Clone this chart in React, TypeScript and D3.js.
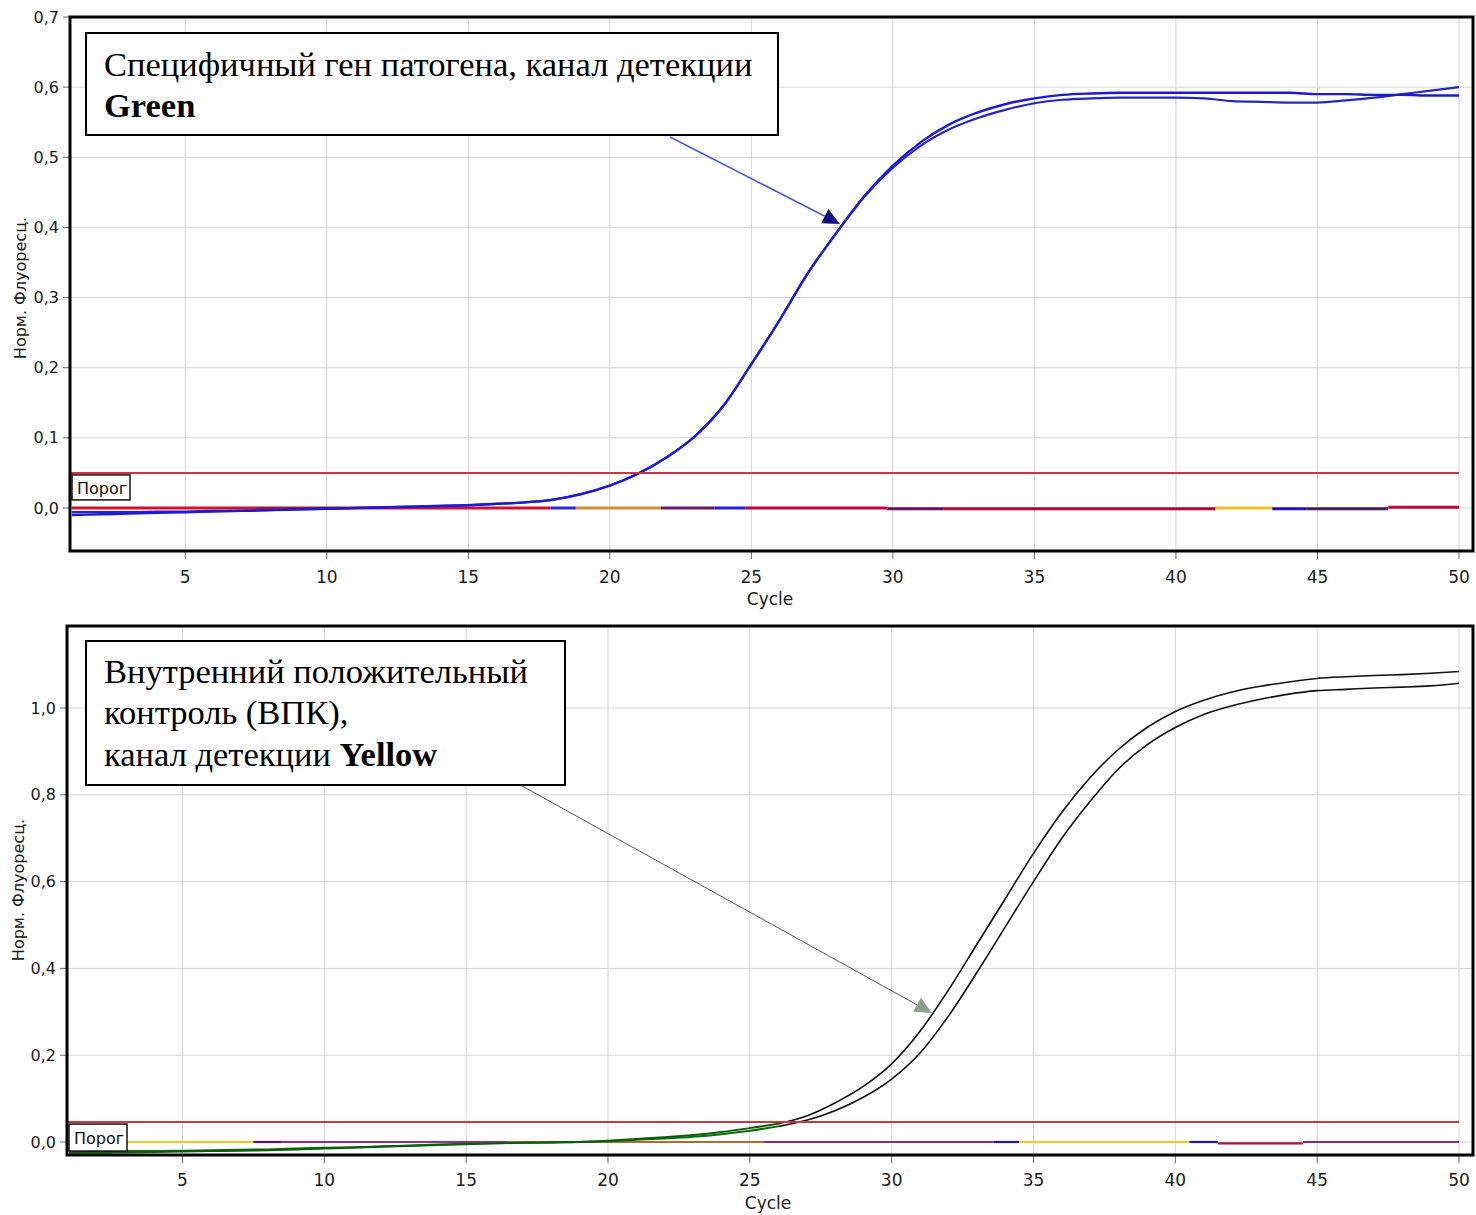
import React from "react";
import * as d3 from "d3";

// ---------- DATA ----------
const cycles = [1,2,3,4,5,6,7,8,9,10,11,12,13,14,15,16,17,18,19,20,21,22,23,24,25,26,27,28,29,30,31,32,33,34,35,36,37,38,39,40,41,42,43,44,45,46,47,48,49,50];

// Top panel: Green channel, specific pathogen gene (two samples)
const greenSample1 = [-0.010,-0.009,-0.008,-0.007,-0.006,-0.005,-0.004,-0.003,-0.002,-0.001,0.000,0.001,0.002,0.003,0.004,0.006,0.008,0.012,0.020,0.032,0.049,0.072,0.102,0.145,0.205,0.268,0.335,0.392,0.445,0.488,0.522,0.547,0.564,0.576,0.584,0.589,0.591,0.592,0.592,0.592,0.592,0.592,0.592,0.592,0.590,0.590,0.589,0.589,0.588,0.588];
const greenSample2 = [-0.006,-0.006,-0.006,-0.005,-0.005,-0.004,-0.004,-0.003,-0.002,-0.001,0.000,0.001,0.002,0.003,0.004,0.006,0.008,0.012,0.020,0.032,0.049,0.072,0.102,0.145,0.205,0.268,0.335,0.392,0.444,0.485,0.517,0.540,0.556,0.568,0.577,0.582,0.584,0.585,0.585,0.585,0.584,0.580,0.579,0.578,0.578,0.581,0.585,0.590,0.595,0.600];

// Bottom panel: Yellow channel, internal positive control (two samples)
const yellowSample1 = [-0.025,-0.025,-0.024,-0.023,-0.022,-0.021,-0.020,-0.019,-0.017,-0.015,-0.013,-0.011,-0.009,-0.007,-0.005,-0.003,-0.002,-0.001,0.000,0.003,0.007,0.011,0.016,0.023,0.032,0.042,0.060,0.090,0.128,0.180,0.255,0.350,0.455,0.560,0.665,0.760,0.840,0.905,0.955,0.992,1.018,1.037,1.050,1.060,1.068,1.072,1.075,1.077,1.080,1.084];
const yellowSample2 = [-0.022,-0.022,-0.021,-0.021,-0.020,-0.019,-0.018,-0.017,-0.015,-0.013,-0.012,-0.010,-0.008,-0.006,-0.004,-0.003,-0.002,-0.001,0.000,0.002,0.005,0.008,0.012,0.018,0.026,0.036,0.050,0.072,0.103,0.145,0.205,0.290,0.390,0.495,0.600,0.700,0.785,0.860,0.915,0.955,0.985,1.005,1.020,1.032,1.040,1.043,1.046,1.048,1.051,1.057];
const yellowGreenUntilCycle = 26;

// Negative / other traces lying on the baseline (segments: from cycle, to cycle, value, colour)
const topBaseFrom  = [1, 7.5, 10.5, 17.9, 18.8, 21.8, 23.7, 24.8, 29.8, 31.8, 41.4, 43.4, 44.6, 47.5];
const topBaseTo    = [7.5, 10.5, 17.9, 18.8, 21.8, 23.7, 24.8, 29.8, 31.8, 41.4, 43.4, 44.6, 47.5, 50];
const topBaseValue = [0.000, 0.000, 0.000, 0.000, 0.000, 0.000, 0.000, 0.000, -0.001, -0.001, 0.000, -0.001, -0.001, 0.001];
const topBaseColor = ["#d4102c", "#a3142e", "#d01030", "#2a2ae0", "#d08a3a", "#6a1a6a", "#2020d8", "#c00838", "#6a1060", "#a80a30", "#f0c028", "#2a10b0", "#4a1a5a", "#c00838"];

const botBaseFrom  = [1, 7.5, 8.5, 16.5, 25.5, 33.6, 34.5, 40.5, 41.5, 44.5];
const botBaseTo    = [7.5, 8.5, 16.5, 25.5, 33.6, 34.5, 40.5, 41.5, 44.5, 50];
const botBaseValue = [0.000, 0.000, 0.000, 0.000, 0.000, 0.000, 0.000, 0.000, -0.003, 0.000];
const botBaseColor = ["#f5c518", "#5a1060", "#9a2a9a", "#b8682a", "#8a2a8a", "#2a10a0", "#f5c518", "#2a10b0", "#b0103a", "#8a2a8a"];

const thresholdTop = 0.05;
const thresholdBottom = 0.046;

const xTicks = [5, 10, 15, 20, 25, 30, 35, 40, 45, 50];
const xTickLabels = ["5", "10", "15", "20", "25", "30", "35", "40", "45", "50"];
const yTicksTop = [0, 0.1, 0.2, 0.3, 0.4, 0.5, 0.6, 0.7];
const yTickLabelsTop = ["0,0", "0,1", "0,2", "0,3", "0,4", "0,5", "0,6", "0,7"];
const yTicksBottom = [0, 0.2, 0.4, 0.6, 0.8, 1.0];
const yTickLabelsBottom = ["0,0", "0,2", "0,4", "0,6", "0,8", "1,0"];

const xTitle = "Cycle";
const yTitle = "Норм. Флуоресц.";
const thresholdLabel = "Порог";
const topNoteLines = ["Специфичный ген патогена, канал детекции"];
const topNoteBold = "Green";
const bottomNoteLines = ["Внутренний положительный", "контроль (ВПК),"];
const bottomNoteLast = "канал детекции ";
const bottomNoteBold = "Yellow";

// arrows: [fromCycle, fromValue, toCycle, toValue]
const topArrow = [22.13, 0.529, 28.13, 0.405];
const bottomArrow = [16.9, 0.823, 31.42, 0.297];

// ---------- LAYOUT ----------
const SANS = "'DejaVu Sans', Verdana, sans-serif";
const SERIF = "'Liberation Serif', 'Times New Roman', serif";
const NOTE_SIZE = 34.5;

type Panel = {
  frame: { x0: number; x1: number; y0: number; y1: number };
  x: d3.ScaleLinear<number, number>;
  y: d3.ScaleLinear<number, number>;
};

const topPanel: Panel = {
  frame: { x0: 70, x1: 1473, y0: 17, y1: 551 },
  x: d3.scaleLinear().domain([1, 50]).range([72, 1459]),
  y: d3.scaleLinear().domain([0, 0.7]).range([508, 17]),
};
const bottomPanel: Panel = {
  frame: { x0: 67, x1: 1473, y0: 626, y1: 1155 },
  x: d3.scaleLinear().domain([1, 50]).range([69, 1459]),
  y: d3.scaleLinear().domain([0, 1.0]).range([1142, 708]),
};

function Arrow({ p, a, lineColor, headColor, lineWidth }: { p: Panel; a: number[]; lineColor: string; headColor: string; lineWidth: number }) {
  const x1 = p.x(a[0]), y1 = p.y(a[1]), x2 = p.x(a[2]), y2 = p.y(a[3]);
  const ang = Math.atan2(y2 - y1, x2 - x1);
  const L = 17, W = 8;
  const bx = x2 - L * Math.cos(ang), by = y2 - L * Math.sin(ang);
  const nx = -Math.sin(ang), ny = Math.cos(ang);
  const head = `M${x2},${y2}L${bx + nx * W},${by + ny * W}L${bx - nx * W},${by - ny * W}Z`;
  return (
    <g>
      <line x1={x1} y1={y1} x2={bx} y2={by} stroke={lineColor} strokeWidth={lineWidth} />
      <path d={head} fill={headColor} />
    </g>
  );
}

function Axes({ p, yTicks, yLabels, yTitleY, yTitleX, xLabelY, xTitleY, xTitleX }: { p: Panel; yTicks: number[]; yLabels: string[]; yTitleY: number; yTitleX: number; xLabelY: number; xTitleY: number; xTitleX: number }) {
  const f = p.frame;
  return (
    <g>
      {/* grid */}
      {xTicks.map((t) => (
        <line key={"gx" + t} x1={p.x(t)} x2={p.x(t)} y1={f.y0} y2={f.y1} stroke="#d4d4d4" strokeWidth={1} />
      ))}
      {yTicks.map((t) => (
        <line key={"gy" + t} x1={f.x0} x2={f.x1} y1={p.y(t)} y2={p.y(t)} stroke="#d4d4d4" strokeWidth={1} />
      ))}
      {/* ticks */}
      {xTicks.map((t) => (
        <line key={"tx" + t} x1={p.x(t)} x2={p.x(t)} y1={f.y1} y2={f.y1 + 8} stroke="#666" strokeWidth={1} />
      ))}
      {yTicks.map((t) => (
        <line key={"ty" + t} x1={f.x0 - 7} x2={f.x0} y1={p.y(t)} y2={p.y(t)} stroke="#666" strokeWidth={1} />
      ))}
      {/* labels */}
      {xTicks.map((t, i) => (
        <text key={"lx" + t} x={p.x(t)} y={xLabelY} textAnchor="middle" dominantBaseline="central" fontFamily={SANS} fontSize={17} fill="#1a1a1a">
          {xTickLabels[i]}
        </text>
      ))}
      {yTicks.map((t, i) => (
        <text key={"ly" + t} x={f.x0 - 11} y={p.y(t)} textAnchor="end" dominantBaseline="central" fontFamily={SANS} fontSize={16} fill="#1a1a1a">
          {yLabels[i]}
        </text>
      ))}
      <text x={xTitleX} y={xTitleY} textAnchor="middle" dominantBaseline="central" fontFamily={SANS} fontSize={17} fill="#1a1a1a">
        {xTitle}
      </text>
      <text transform={`translate(${yTitleX},${yTitleY}) rotate(-90)`} textAnchor="middle" dominantBaseline="central" fontFamily={SANS} fontSize={16} fill="#1a1a1a">
        {yTitle}
      </text>
    </g>
  );
}

function Baselines({ p, from, to, value, color, width }: { p: Panel; from: number[]; to: number[]; value: number[]; color: string[]; width: number }) {
  return (
    <g>
      {from.map((c, i) => (
        <line key={i} x1={p.x(c)} x2={p.x(to[i])} y1={p.y(value[i])} y2={p.y(value[i])} stroke={color[i]} strokeWidth={width} />
      ))}
    </g>
  );
}

function Curve({ p, values, color, width, fromCycle = 1, toCycle = 50 }: { p: Panel; values: number[]; color: string; width: number; fromCycle?: number; toCycle?: number }) {
  const pts = cycles.map((c, i) => [c, values[i]] as [number, number]).filter((d) => d[0] >= fromCycle && d[0] <= toCycle);
  const line = d3.line<[number, number]>().x((d) => p.x(d[0])).y((d) => p.y(d[1])).curve(d3.curveMonotoneX);
  return <path d={line(pts) || ""} fill="none" stroke={color} strokeWidth={width} strokeLinejoin="round" />;
}

function ThresholdLabel({ p, value, w, h }: { p: Panel; value: number; w: number; h: number }) {
  const x0 = p.frame.x0 + 2;
  const y0 = p.y(value) + 2;
  return (
    <g>
      <rect x={x0} y={y0} width={w} height={h} fill="#fff" stroke="#111" strokeWidth={1.5} />
      <text x={x0 + 5} y={y0 + h / 2 + 1} dominantBaseline="central" fontFamily={SANS} fontSize={16} fill="#111">
        {thresholdLabel}
      </text>
    </g>
  );
}

export default function App() {
  const tp = topPanel, bp = bottomPanel;
  return (
    <svg width={1476} height={1215} style={{ position: "absolute", left: 0, top: 0, background: "#fff" }} xmlns="http://www.w3.org/2000/svg">
      <rect x={0} y={0} width={1476} height={1215} fill="#fff" />

      {/* ---------- TOP PANEL ---------- */}
      <Axes p={tp} yTicks={yTicksTop} yLabels={yTickLabelsTop} yTitleX={20} yTitleY={288} xLabelY={577} xTitleY={599} xTitleX={770} />
      <Baselines p={tp} from={topBaseFrom} to={topBaseTo} value={topBaseValue} color={topBaseColor} width={3} />
      <Curve p={tp} values={greenSample2} color="#2626c8" width={2.2} />
      <Curve p={tp} values={greenSample1} color="#1a1ad8" width={2.4} />
      <line x1={tp.frame.x0} x2={tp.x(50)} y1={tp.y(thresholdTop)} y2={tp.y(thresholdTop)} stroke="#c43a44" strokeWidth={2} />
      <ThresholdLabel p={tp} value={thresholdTop} w={58} h={25} />
      <rect x={tp.frame.x0} y={tp.frame.y0} width={tp.frame.x1 - tp.frame.x0} height={tp.frame.y1 - tp.frame.y0} fill="none" stroke="#000" strokeWidth={3} />
      <Arrow p={tp} a={topArrow} lineColor="#4b5ad8" headColor="#10107e" lineWidth={1.6} />
      <rect x={86} y={33} width={692} height={102} fill="#fff" stroke="#000" strokeWidth={2} />
      <text x={104} y={76} fontFamily={SERIF} fontSize={NOTE_SIZE} fill="#000">{topNoteLines[0]}</text>
      <text x={104} y={117} fontFamily={SERIF} fontSize={NOTE_SIZE} fontWeight="bold" fill="#000">{topNoteBold}</text>

      {/* ---------- BOTTOM PANEL ---------- */}
      <Axes p={bp} yTicks={yTicksBottom} yLabels={yTickLabelsBottom} yTitleX={18} yTitleY={890} xLabelY={1180} xTitleY={1203} xTitleX={768} />
      <Baselines p={bp} from={botBaseFrom} to={botBaseTo} value={botBaseValue} color={botBaseColor} width={2.2} />
      <Curve p={bp} values={yellowSample2} color="#111" width={1.6} fromCycle={yellowGreenUntilCycle} />
      <Curve p={bp} values={yellowSample1} color="#111" width={1.6} fromCycle={yellowGreenUntilCycle} />
      <Curve p={bp} values={yellowSample2} color="#0c6e0c" width={2} toCycle={yellowGreenUntilCycle} />
      <Curve p={bp} values={yellowSample1} color="#0a5e0a" width={2} toCycle={yellowGreenUntilCycle} />
      <line x1={bp.frame.x0} x2={bp.x(50)} y1={bp.y(thresholdBottom)} y2={bp.y(thresholdBottom)} stroke="#c43a44" strokeWidth={2} />
      <ThresholdLabel p={bp} value={thresholdBottom} w={58} h={27} />
      <rect x={bp.frame.x0} y={bp.frame.y0} width={bp.frame.x1 - bp.frame.x0} height={bp.frame.y1 - bp.frame.y0} fill="none" stroke="#000" strokeWidth={3} />
      <Arrow p={bp} a={bottomArrow} lineColor="#555" headColor="#8a9e8c" lineWidth={1} />
      <rect x={86} y={641} width={479} height={144} fill="#fff" stroke="#000" strokeWidth={2} />
      <text x={104} y={683} fontFamily={SERIF} fontSize={NOTE_SIZE} fill="#000">{bottomNoteLines[0]}</text>
      <text x={104} y={724} fontFamily={SERIF} fontSize={NOTE_SIZE} fill="#000">{bottomNoteLines[1]}</text>
      <text x={104} y={766} fontFamily={SERIF} fontSize={NOTE_SIZE} fill="#000">
        {bottomNoteLast}
        <tspan fontWeight="bold">{bottomNoteBold}</tspan>
      </text>
    </svg>
  );
}
